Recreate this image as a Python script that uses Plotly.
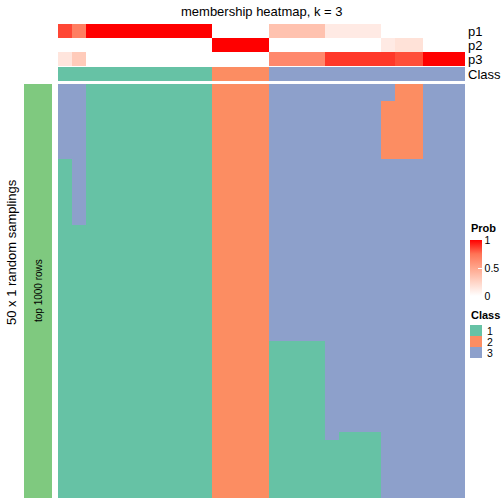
import plotly.graph_objects as go

# ---------------- data ----------------
n_samplings = 50
# consensus class per sample (column)
consensus_class = [1]*11 + [2]*4 + [3]*14
# membership probabilities per sample
p1 = [0.85, 0.70] + [1.0]*9 + [0.0]*4 + [0.35]*4 + [0.12]*4 + [0.0]*6
p2 = [0.0, 0.0] + [0.0]*9 + [1.0]*4 + [0.0]*8 + [0.12, 0.17, 0.17, 0.0, 0.0, 0.0]
p3 = [0.15, 0.30] + [0.0]*9 + [0.0]*4 + [0.65]*4 + [0.88]*4 + [0.88, 0.83, 0.83, 1.0, 1.0, 1.0]
# class assigned in each of the 50 random samplings, as (class, run length) per column
membership_runs = (
    [[(3, 9), (1, 41)], [(3, 17), (1, 33)]]
    + [[(1, 50)]]*9
    + [[(2, 50)]]*4
    + [[(3, 31), (1, 19)]]*4
    + [[(3, 43), (1, 7)]]
    + [[(3, 42), (1, 8)]]*3
    + [[(3, 2), (2, 7), (3, 41)]]
    + [[(2, 9), (3, 41)]]*2
    + [[(3, 50)]]*3
)
class_labels = ["1", "2", "3"]
anno_labels = ["p1", "p2", "p3", "Class"]
prob_ticks = [0, 0.5, 1]

# ---------------- colours ----------------
C1, C2, C3 = "#66C2A5", "#FC8D62", "#8DA0CB"
class_scale = [[0, C1], [0.25, C1], [0.25, C2], [0.75, C2], [0.75, C3], [1, C3]]
prob_scale = [[0, "#FFFFFF"], [0.25, "#FFD4C6"], [0.5, "#FFA68C"], [0.75, "#FF7456"], [1, "#FF0000"]]
FONT = "Liberation Sans, Arial, sans-serif"

n_cols = len(consensus_class)
cols = list(range(n_cols))
rows = list(range(n_samplings))

# build matrix from runs
z_main = [[0]*n_cols for _ in rows]
for j, runs in enumerate(membership_runs):
    r = 0
    for cls, length in runs:
        for _ in range(length):
            z_main[r][j] = cls
            r += 1

W = H = 504
def px(x): return x / W
def py(y): return 1 - y / H

fig = go.Figure()

# main heatmap
fig.add_trace(go.Heatmap(z=z_main, x=cols, y=rows, zmin=1, zmax=3, colorscale=class_scale,
                         showscale=False, hoverinfo="skip", xaxis="x", yaxis="y"))
# class annotation row
fig.add_trace(go.Heatmap(z=[consensus_class], x=cols, y=[0], zmin=1, zmax=3, colorscale=class_scale,
                         showscale=False, hoverinfo="skip", xaxis="x2", yaxis="y2"))
# probability rows
fig.add_trace(go.Heatmap(z=[p1, p2, p3], x=cols, y=[0, 1, 2], zmin=0, zmax=1, colorscale=prob_scale,
                         hoverinfo="skip", xaxis="x3", yaxis="y3",
                         colorbar=dict(x=px(470), xanchor="left", y=py(240), yanchor="top",
                                       len=56, lenmode="pixels", thickness=12, thicknessmode="pixels",
                                       outlinewidth=0, tickvals=prob_ticks, ticktext=["0", "0.5", "1"],
                                       ticks="inside", ticklen=4, tickcolor="white",
                                       tickfont=dict(family=FONT, size=10.5, color="#000"),
                                       xpad=0, ypad=0)))
# left bar
fig.add_trace(go.Heatmap(z=[[1]], x=[0], y=[0], colorscale=[[0, "#7FC97F"], [1, "#7FC97F"]],
                         showscale=False, hoverinfo="skip", xaxis="x4", yaxis="y4"))
# class legend swatches
fig.add_trace(go.Heatmap(z=[[1], [2], [3]], x=[0], y=[0, 1, 2], zmin=1, zmax=3, colorscale=class_scale,
                         showscale=False, hoverinfo="skip", xaxis="x5", yaxis="y5"))

ax = dict(showticklabels=False, showgrid=False, zeroline=False, ticks="", showline=False, fixedrange=True)
fig.update_layout(
    width=W, height=H, margin=dict(l=0, r=0, t=0, b=0),
    paper_bgcolor="white", plot_bgcolor="white",
    xaxis=dict(ax, domain=[px(58), px(465)], range=[-0.5, n_cols-0.5]),
    yaxis=dict(ax, domain=[py(498), py(84)], range=[n_samplings-0.5, -0.5]),
    xaxis2=dict(ax, domain=[px(58), px(465)], range=[-0.5, n_cols-0.5], anchor="y2"),
    yaxis2=dict(ax, domain=[py(81.3), py(67)], range=[0.5, -0.5], anchor="x2"),
    xaxis3=dict(ax, domain=[px(58), px(465)], range=[-0.5, n_cols-0.5], anchor="y3"),
    yaxis3=dict(ax, domain=[py(66), py(24)], range=[2.5, -0.5], anchor="x3"),
    xaxis4=dict(ax, domain=[px(24), px(52)], range=[-0.5, 0.5], anchor="y4"),
    yaxis4=dict(ax, domain=[py(498), py(84)], range=[-0.5, 0.5], anchor="x4"),
    xaxis5=dict(ax, domain=[px(470), px(482)], range=[-0.5, 0.5], anchor="y5"),
    yaxis5=dict(ax, domain=[py(358), py(325)], range=[2.5, -0.5], anchor="x5"),
    font=dict(family=FONT, color="#000"),
)

ann = []
ann.append(dict(text="membership heatmap, k = 3", x=px(262), y=py(11), xref="paper", yref="paper",
                showarrow=False, font=dict(size=13), xanchor="center", yanchor="middle"))
for i, lab in enumerate(anno_labels):
    yc = [31, 45, 59, 74][i]
    ann.append(dict(text=lab, x=px(466), y=py(yc), xref="paper", yref="paper", showarrow=False,
                    font=dict(size=13), xanchor="left", yanchor="middle"))
ann.append(dict(text="50 x 1 random samplings", x=px(11), y=py(252), xref="paper", yref="paper",
                showarrow=False, textangle=-90, font=dict(size=13), xanchor="center", yanchor="middle"))
ann.append(dict(text="top 1000 rows", x=px(38), y=py(291), xref="paper", yref="paper",
                showarrow=False, textangle=-90, font=dict(size=10), xanchor="center", yanchor="middle"))
ann.append(dict(text="<b>Prob</b>", x=px(469), y=py(228), xref="paper", yref="paper",
                showarrow=False, font=dict(size=11), xanchor="left", yanchor="middle"))
ann.append(dict(text="<b>Class</b>", x=px(469), y=py(315), xref="paper", yref="paper",
                showarrow=False, font=dict(size=11), xanchor="left", yanchor="middle"))
for i, lab in enumerate(class_labels):
    ann.append(dict(text=lab, x=px(485), y=py(330.5 + 11*i), xref="paper", yref="paper",
                    showarrow=False, font=dict(size=10.5), xanchor="left", yanchor="middle"))
fig.update_layout(annotations=ann)

fig.write_html("out.html", config={"displayModeBar": False},
               post_script="document.body.style.margin='0px';document.body.style.overflow='hidden';")
